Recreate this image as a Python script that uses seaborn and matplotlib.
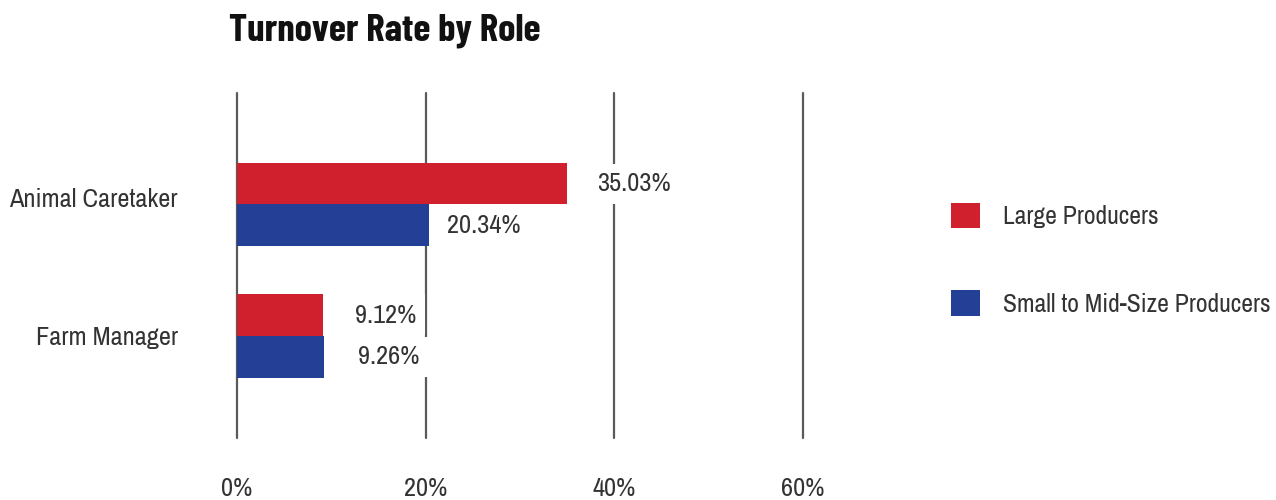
import matplotlib
matplotlib.use("Agg")
import matplotlib.pyplot as plt
import matplotlib.transforms as mtransforms
from matplotlib.container import BarContainer
import seaborn as sns
import pandas as pd

roles = ["Animal Caretaker", "Farm Manager"]
series_names = ["Large Producers", "Small to Mid-Size Producers"]
large_values = [35.03, 9.12]
small_values = [20.34, 9.26]
x_ticks = [0, 20, 40, 60]
x_tick_labels = ["0%", "20%", "40%", "60%"]
title = "Turnover Rate by Role"

RED = "#D1202D"
BLUE = "#233F96"
TXT = "#333333"
FONT = ["Archivo Narrow", "DejaVu Sans"]
TFONT = ["Barlow Condensed", "DejaVu Sans"]
FS = 19

sns.set_theme(style="white")
plt.rcParams["font.family"] = FONT

df = pd.DataFrame({
    "Role": roles * 2,
    "Rate": large_values + small_values,
    "Producer": [series_names[0]] * len(roles) + [series_names[1]] * len(roles),
})

fig = plt.figure(figsize=(12.76, 5.0), dpi=100)
ax = fig.add_axes([237 / 1276, 62 / 500, (803 - 237) / 1276, (438 - 93) / 500])

sns.barplot(data=df, y="Role", x="Rate", hue="Producer", orient="h",
            palette=[RED, BLUE], width=0.635, ax=ax, saturation=1,
            hue_order=series_names, order=roles, linewidth=0)

handles, labels = ax.get_legend_handles_labels()
if ax.get_legend() is not None:
    ax.get_legend().remove()

ax.set_xlim(0, 60)
ax.set_ylim(1.776, -0.848)
ax.set_xticks(x_ticks)
ax.set_xticklabels(x_tick_labels)
ax.set_xlabel("")
ax.set_ylabel("")
ax.set_axisbelow(True)
ax.xaxis.grid(True, color="#5a5a5a", linewidth=1.6)
for gl in ax.get_xgridlines():
    gl.set_clip_on(False)
ax.yaxis.grid(False)
for s in ax.spines.values():
    s.set_visible(False)
ax.tick_params(axis="x", length=0, pad=28, labelsize=FS, labelcolor=TXT)
ax.tick_params(axis="y", length=0, pad=42.5, labelsize=FS, labelcolor=TXT)
for lbl in ax.get_xticklabels() + ax.get_yticklabels():
    lbl.set_family(FONT)

# first category label sits slightly above its bar group in the reference
ylbls = ax.get_yticklabels()
ylbls[0].set_transform(ylbls[0].get_transform() +
                       mtransforms.ScaledTranslation(0, 7 / 100, fig.dpi_scale_trans))

pads = [[21.6, 23.0], [13.0, 24.5]]
for cont, cpads in zip(list(ax.containers), pads):
    for patch, val, p in zip(cont.patches, cont.datavalues, cpads):
        single = BarContainer([patch], datavalues=[val], orientation="horizontal")
        ax.bar_label(single, labels=[f"{val:.2f}%"], padding=p, fontsize=FS,
                     color=TXT, family=FONT,
                     bbox=dict(facecolor="white", edgecolor="none", pad=6))

fig.text(229 / 1276, 1 - 41 / 500, title, fontsize=28, fontweight="bold",
         color="#111111", va="baseline", ha="left", family=TFONT)

leg = fig.legend(handles, labels, loc="upper left",
                 bbox_to_anchor=(951 / 1276, 1 - 203 / 500),
                 frameon=False, fontsize=18.5, handlelength=1.13,
                 handleheight=1.13, handletextpad=0.9, labelspacing=2.42,
                 borderpad=0, borderaxespad=0)
for t in leg.get_texts():
    t.set_color(TXT)
    t.set_family(FONT)

fig.savefig("out.png", dpi=100, facecolor="white")
